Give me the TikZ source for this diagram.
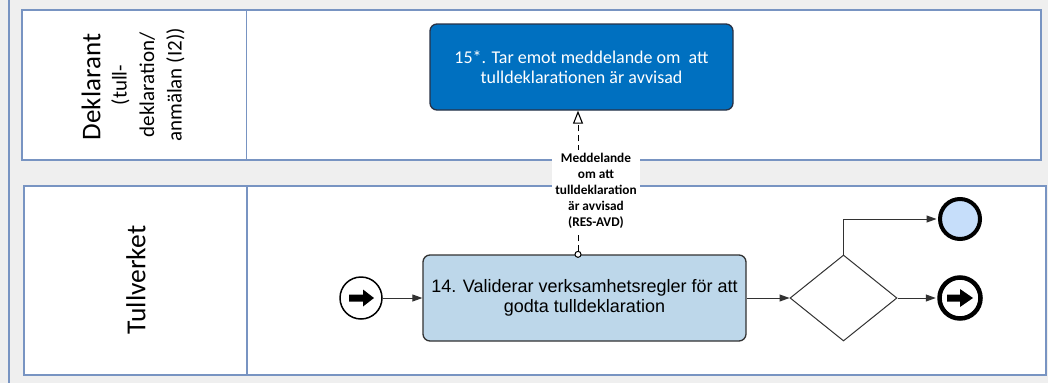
\documentclass[tikz,border=0pt]{standalone}
\usepackage{fontspec}
\setmainfont{Carlito}
\newfontfamily\arialf{Liberation Sans}
\usetikzlibrary{arrows.meta,shapes.geometric}
\definecolor{bggray}{RGB}{239,239,239}
\definecolor{poolc}{RGB}{120,148,194}
\definecolor{darkblue}{RGB}{0,112,192}
\definecolor{darkedge}{RGB}{40,50,70}
\definecolor{lightblue}{RGB}{189,215,234}
\definecolor{endblue}{RGB}{198,222,250}
\definecolor{linec}{RGB}{50,50,50}
\tikzset{
  poolline/.style={draw=poolc, line width=1.6pt},
  taskbox/.style={rectangle, rounded corners=7pt, line width=1.3pt, inner sep=0pt, align=center},
  flowline/.style={draw=linec, line width=1pt, -{Triangle[length=10pt,width=7pt]}},
  msgline/.style={draw=black, line width=1pt, dash pattern=on 6pt off 4pt,
     {Circle[open,length=7pt,width=7pt,fill=white,line width=1pt]}-{Triangle[open,length=13pt,width=10pt,fill=white,line width=1.1pt]}},
  lanelabel/.style={rotate=90, inner sep=0pt, align=center},
}
\begin{document}
\begin{tikzpicture}[x=1pt,y=-1pt]
\useasboundingbox (0,0) rectangle (1048,383);
\fill[bggray] (0,0) rectangle (1048,383);
\draw[poolline] (9,0) -- (9,383);
% pools
\draw[poolline, fill=white] (22,10) rectangle (1041,160);
\draw[poolline] (246.5,10) -- (246.5,160);
\draw[poolline, fill=white] (24,186) rectangle (1046,375);
\draw[poolline] (247,186) -- (247,375);
% lane labels
\node[lanelabel, font=\fontsize{27}{30}\selectfont] (dek) at (91,87) {Deklarant};
\node[lanelabel, font=\fontsize{21}{27.5}\selectfont] (deksub) at (148,85) {(tull-\\deklaration/\\anmälan (I2))};
\node[lanelabel, font=\fontsize{27.5}{30}\selectfont] (tull) at (136,280) {Tullverket};
% tasks
\node[taskbox, fill=darkblue, draw=darkedge, minimum width=303pt, minimum height=86pt,
      text=white, font=\fontsize{18}{20}\selectfont] (t15) at (581.5,67)
      {15*. Tar emot meddelande om\ \ att\\tulldeklarationen är avvisad};
\node[taskbox, fill=lightblue, draw=linec, minimum width=323pt, minimum height=86pt,
      font=\arialf\fontsize{18}{20}\selectfont] (t14) at (584.5,298)
      {14. Validerar verksamhetsregler för att\\godta tulldeklaration};
% message flow
\draw[msgline] ([xshift=-6.5pt,yshift=-3.5pt]t14.north) -- ([xshift=-3.5pt]t15.south);
\node[fill=white, inner xsep=3pt, inner ysep=3pt, align=center,
      font=\bfseries\fontsize{13.3}{16}\selectfont] (mlab) at (596,191)
      {Meddelande\\om att\\tulldeklaration\\är avvisad\\(RES-AVD)};
% start event
\node[circle, draw=black, fill=white, line width=1.5pt, minimum size=42pt, inner sep=0pt] (s) at (361,298) {};
\fill[shift={(s.center)}] (-12,-3.5) -- (2,-3.5) -- (2,-8.5) -- (13,0) -- (2,8.5) -- (2,3.5) -- (-12,3.5) -- cycle;
% gateway
\node[diamond, draw=linec, fill=white, line width=1pt, aspect=1.244, minimum width=107pt, minimum height=86pt, inner sep=0pt] (g) at (843.5,298) {};
% end events
\node[circle, draw=black, fill=endblue, line width=4pt, minimum size=40pt, inner sep=0pt] (e1) at (960,219) {};
\node[circle, draw=black, fill=white, line width=4.5pt, minimum size=41pt, inner sep=0pt] (e2) at (960,298) {};
\fill[shift={(e2.center)}] (-13,-3.5) -- (0,-3.5) -- (0,-9) -- (13,0) -- (0,9) -- (0,3.5) -- (-13,3.5) -- cycle;
% sequence flows
\draw[flowline] (s.east) -- (t14.west);
\draw[flowline] (t14.east) -- (g.west);
\draw[flowline] (g.north) |- ([xshift=-1.5pt]e1.west);
\draw[flowline] (g.east) -- ([xshift=-1.5pt]e2.west);
\end{tikzpicture}
\end{document}
